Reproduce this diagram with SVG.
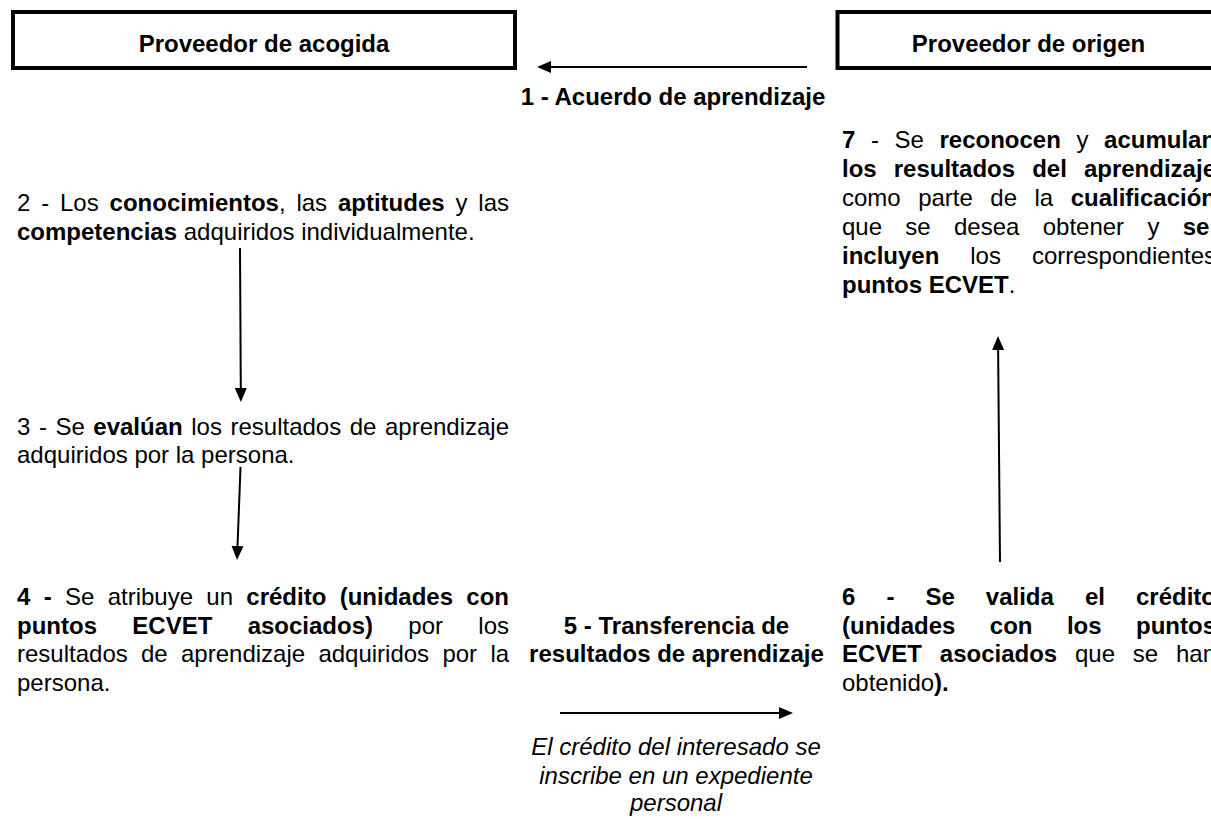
<svg xmlns="http://www.w3.org/2000/svg" width="1211" height="819" viewBox="0 0 1211 819">
<style>
text{font-family:"Liberation Sans",Arial,Helvetica,sans-serif;font-size:24px;fill:#000}
.b{font-weight:bold}
.i{font-style:italic}
.c{text-anchor:middle}
.box{fill:#fff;stroke:#000;stroke-width:4}
.conn{stroke:#000;stroke-width:2;fill:none}
</style>
<defs>
<marker id="ah" viewBox="0 0 14 12" refX="2" refY="6" markerWidth="14" markerHeight="12" markerUnits="userSpaceOnUse" orient="auto"><path d="M0,0 L14,6 L0,12 z" fill="#000"/></marker>
</defs>
<rect width="1211" height="819" fill="#fff"/>
<g id="box-acogida">
<rect class="box" x="13" y="12" width="502" height="56"/>
<text class="b c" x="264" y="52">Proveedor de acogida</text>
</g>
<g id="box-origen">
<rect class="box" x="837.5" y="12" width="382" height="56"/>
<text class="b c" x="1028.5" y="52">Proveedor de origen</text>
</g>
<g id="connectors">
<line class="conn" x1="807" y1="67" x2="549" y2="67" marker-end="url(#ah)"/>
<line class="conn" x1="240" y1="248" x2="240.8" y2="390" marker-end="url(#ah)"/>
<line class="conn" x1="240.5" y1="467" x2="237.45" y2="548" marker-end="url(#ah)"/>
<line class="conn" x1="560" y1="713" x2="781" y2="713" marker-end="url(#ah)"/>
<line class="conn" x1="1000" y1="562" x2="998.1" y2="348" marker-end="url(#ah)"/>
</g>
<g id="step1">
<text class="b c" x="673" y="105">1 - Acuerdo de aprendizaje</text>
</g>
<g id="step2">
<text x="17" y="211" style="word-spacing:4.17px">2 - Los <tspan class="b">conocimientos</tspan>, las <tspan class="b">aptitudes</tspan> y las</text>
<text x="17" y="240"><tspan class="b">competencias</tspan> adquiridos individualmente.</text>
</g>
<g id="step3">
<text x="17" y="434.5" style="word-spacing:1.87px">3 - Se <tspan class="b">evalúan</tspan> los resultados de aprendizaje</text>
<text x="17" y="463">adquiridos por la persona.</text>
</g>
<g id="step4">
<text x="17" y="605" style="word-spacing:6.64px"><tspan class="b">4 -</tspan> Se atribuye un <tspan class="b">crédito (unidades con</tspan></text>
<text x="17" y="633.5" style="word-spacing:28.65px"><tspan class="b">puntos ECVET asociados)</tspan> por los</text>
<text x="17" y="662" style="word-spacing:6.62px">resultados de aprendizaje adquiridos por la</text>
<text x="17" y="690.5">persona.</text>
</g>
<g id="step5">
<text class="b c" x="676.5" y="634">5 - Transferencia de</text>
<text class="b c" x="676.5" y="662">resultados de aprendizaje</text>
<text class="i c" x="676" y="755">El crédito del interesado se</text>
<text class="i c" x="676" y="784">inscribe en un expediente</text>
<text class="i c" x="676" y="811">personal</text>
</g>
<g id="step6">
<text class="b" x="842" y="605" style="word-spacing:24.38px">6 - Se valida el crédito</text>
<text class="b" x="842" y="633.5" style="word-spacing:27.77px">(unidades con los puntos</text>
<text x="842" y="662" style="word-spacing:11.13px"><tspan class="b">ECVET asociados</tspan> que se han</text>
<text x="842" y="690.5">obtenido<tspan class="b">).</tspan></text>
</g>
<g id="step7">
<text x="842" y="148" style="word-spacing:8.92px"><tspan class="b">7</tspan> - Se <tspan class="b">reconocen</tspan> y <tspan class="b">acumulan</tspan></text>
<text class="b" x="842" y="177" style="word-spacing:10.4px">los resultados del aprendizaje</text>
<text x="842" y="206" style="word-spacing:10.8px">como parte de la <tspan class="b">cualificación</tspan></text>
<text x="842" y="235" style="word-spacing:16.64px">que se desea obtener y <tspan class="b">se</tspan></text>
<text x="842" y="264" style="word-spacing:24.25px"><tspan class="b">incluyen</tspan> los correspondientes</text>
<text x="842" y="293"><tspan class="b">puntos ECVET</tspan>.</text>
</g>
</svg>
